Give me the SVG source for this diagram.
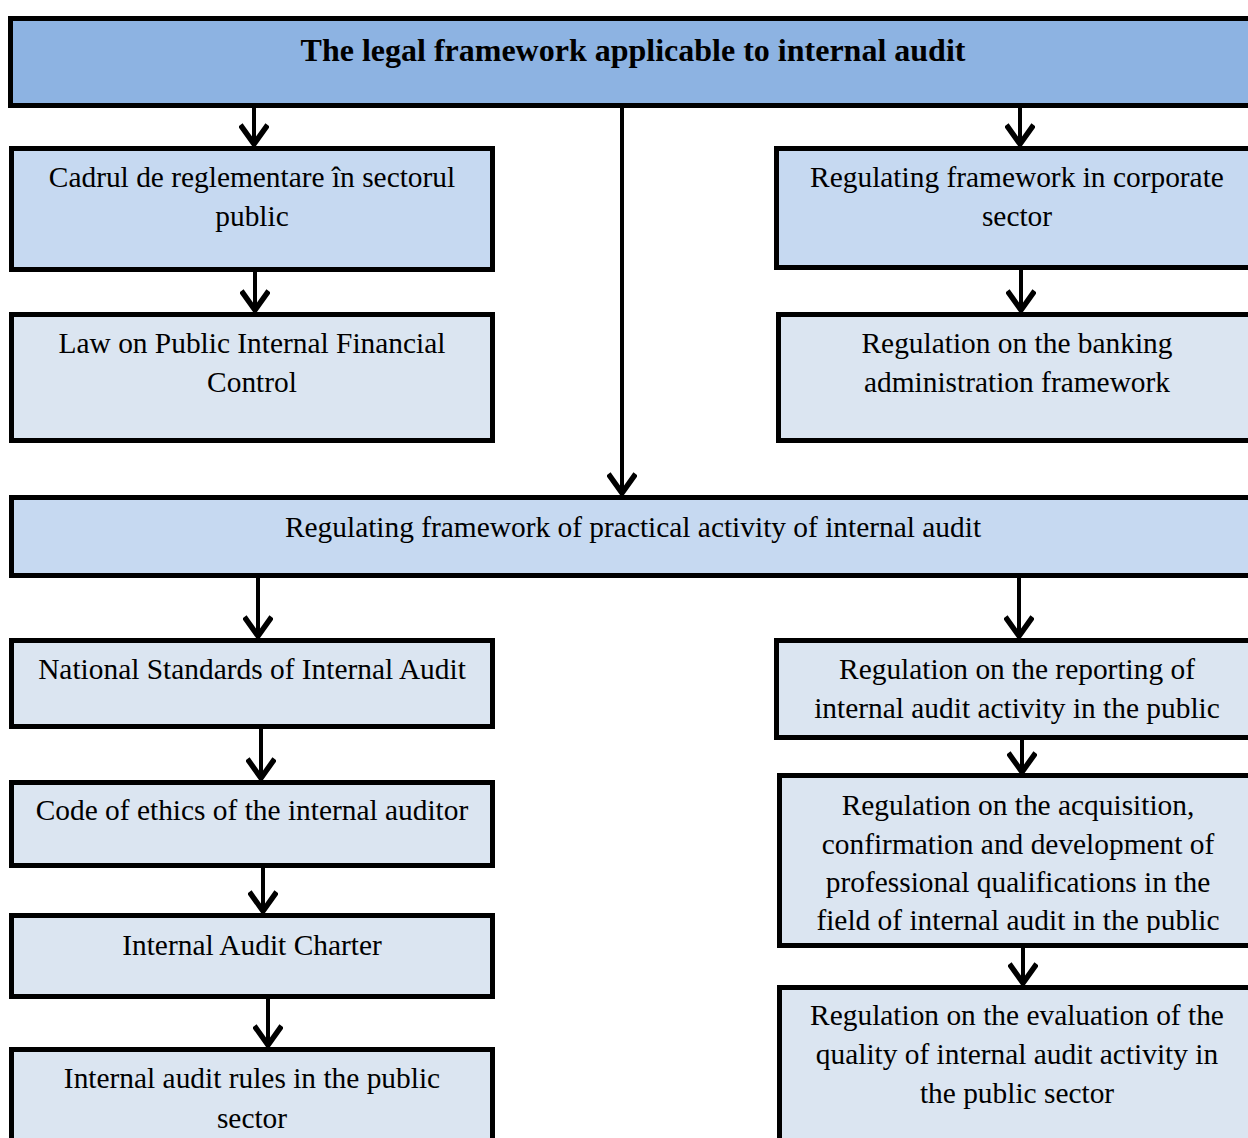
<svg xmlns="http://www.w3.org/2000/svg" width="1248" height="1138" viewBox="0 0 1248 1138">
<style>
.box{stroke:#000;stroke-width:5}
.h{fill:#8db3e2}
.m{fill:#c6d9f1}
.l{fill:#dbe5f1}
text{font-family:"Liberation Serif","Times New Roman",serif;font-size:29.4px;fill:#000;text-anchor:middle}
.t{font-weight:bold;font-size:32px}
.c{stroke:#000;stroke-width:4;fill:none}
</style>
<defs>
<marker id="arr" markerUnits="userSpaceOnUse" markerWidth="30" markerHeight="30" refX="17" refY="11" orient="auto" viewBox="0 0 20 22">
<polyline points="3,1 17,11 3,21" fill="none" stroke="#000" stroke-width="4"/>
</marker>
<clipPath id="clipAcq"><rect x="777" y="773" width="480" height="160"/></clipPath>
</defs>
<g id="connectors">
<line class="c" x1="254" y1="107" x2="254" y2="144" marker-end="url(#arr)"/>
<line class="c" x1="1020" y1="107" x2="1020" y2="144" marker-end="url(#arr)"/>
<line class="c" x1="622" y1="107" x2="622" y2="493" marker-end="url(#arr)"/>
<line class="c" x1="255" y1="271" x2="255" y2="310" marker-end="url(#arr)"/>
<line class="c" x1="1021" y1="270" x2="1021" y2="310" marker-end="url(#arr)"/>
<line class="c" x1="258" y1="578" x2="258" y2="636" marker-end="url(#arr)"/>
<line class="c" x1="1019" y1="578" x2="1019" y2="636" marker-end="url(#arr)"/>
<line class="c" x1="261" y1="729" x2="261" y2="778" marker-end="url(#arr)"/>
<line class="c" x1="263" y1="861" x2="263" y2="911" marker-end="url(#arr)"/>
<line class="c" x1="268" y1="997" x2="268" y2="1045" marker-end="url(#arr)"/>
<line class="c" x1="1022" y1="740" x2="1022" y2="772" marker-end="url(#arr)"/>
<line class="c" x1="1023" y1="948" x2="1023" y2="983" marker-end="url(#arr)"/>
</g>
<g id="n-header"><rect class="box h" x="10.5" y="18.5" width="1260" height="87"/>
<text class="t" x="633" y="61">The legal framework applicable to internal audit</text></g>
<g id="n-cadrul"><rect class="box m" x="11.5" y="148.5" width="481" height="121"/>
<text x="252" y="187">Cadrul de reglementare în sectorul</text><text x="252" y="226">public</text></g>
<g id="n-corporate"><rect class="box m" x="776.5" y="148.5" width="490" height="119"/>
<text x="1017" y="187">Regulating framework in corporate</text><text x="1017" y="226">sector</text></g>
<g id="n-law"><rect class="box l" x="11.5" y="314.5" width="481" height="126"/>
<text x="252" y="353">Law on Public Internal Financial</text><text x="252" y="392">Control</text></g>
<g id="n-banking"><rect class="box l" x="778.5" y="314.5" width="490" height="126"/>
<text x="1017" y="353">Regulation on the banking</text><text x="1017" y="392">administration framework</text></g>
<g id="n-practical"><rect class="box m" x="11.5" y="497.5" width="1260" height="78"/>
<text x="633" y="537">Regulating framework of practical activity of internal audit</text></g>
<g id="n-national"><rect class="box l" x="11.5" y="640.5" width="481" height="86"/>
<text x="252" y="679">National Standards of Internal Audit</text></g>
<g id="n-code"><rect class="box l" x="11.5" y="782.5" width="481" height="83"/>
<text x="252" y="820">Code of ethics of the internal auditor</text></g>
<g id="n-charter"><rect class="box l" x="11.5" y="915.5" width="481" height="81"/>
<text x="252" y="955">Internal Audit Charter</text></g>
<g id="n-rules"><rect class="box l" x="11.5" y="1049.5" width="481" height="100"/>
<text x="252" y="1088">Internal audit rules in the public</text><text x="252" y="1128">sector</text></g>
<g id="n-reporting"><rect class="box l" x="776.5" y="640.5" width="490" height="97"/>
<text x="1017" y="679">Regulation on the reporting of</text><text x="1017" y="718">internal audit activity in the public</text></g>
<g id="n-acquisition"><rect class="box l" x="779.5" y="775.5" width="490" height="170"/>
<g clip-path="url(#clipAcq)"><text x="1018" y="815">Regulation on the acquisition,</text><text x="1018" y="854">confirmation and development of</text><text x="1018" y="892">professional qualifications in the</text><text x="1018" y="930">field of internal audit in the public</text></g></g>
<g id="n-evaluation"><rect class="box l" x="779.5" y="987.5" width="490" height="170"/>
<text x="1017" y="1025">Regulation on the evaluation of the</text><text x="1017" y="1064">quality of internal audit activity in</text><text x="1017" y="1103">the public sector</text></g>
</svg>
